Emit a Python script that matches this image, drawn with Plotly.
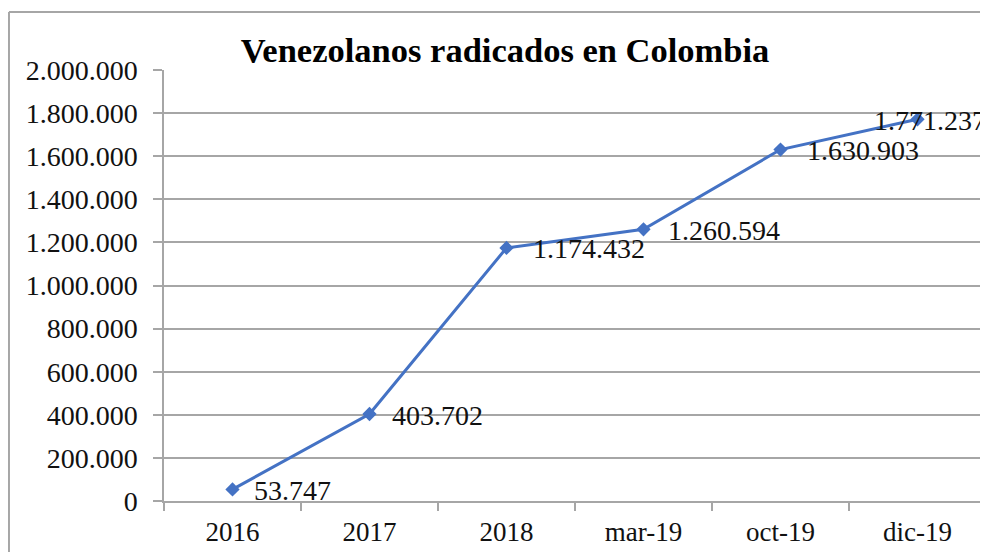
import plotly.graph_objects as go

categories = ["2016", "2017", "2018", "mar-19", "oct-19", "dic-19"]
values = [53747, 403702, 1174432, 1260594, 1630903, 1771237]
labels = ["53.747", "403.702", "1.174.432", "1.260.594", "1.630.903", "1.771.237"]
label_shift = [19, 20, 24, 22, 24, -46]

FONT = "Times New Roman, Liberation Serif, serif"
GRID = "#a6a6a6"

fig = go.Figure()
fig.add_trace(go.Scatter(
    x=categories, y=values, mode="lines+markers",
    line=dict(color="#4472C4", width=3),
    marker=dict(symbol="diamond", size=11, color="#4472C4"),
    cliponaxis=False, hoverinfo="skip",
))

annotations = []
for i, (v, t, s) in enumerate(zip(values, labels, label_shift)):
    annotations.append(dict(x=i, y=v, xref="x", yref="y", text=t, showarrow=False,
                            xanchor="left", yanchor="middle", xshift=s, yshift=-1,
                            font=dict(family=FONT, size=28, color="#111111")))

fig.update_layout(
    width=980, height=544,
    margin=dict(l=156, r=2, t=62, b=51),
    paper_bgcolor="white", plot_bgcolor="white",
    separators=",.",
    showlegend=False,
    title=dict(text="<b>Venezolanos radicados en Colombia</b>",
               font=dict(family=FONT, size=34.5, color="#000000"),
               x=497 / 980, xanchor="center", xref="container",
               y=1 - 42 / 544, yanchor="middle", yref="container"),
    annotations=annotations,
    shapes=[
        dict(type="line", xref="paper", yref="paper",
             x0=-0.1886, x1=-0.1886, y0=-0.3, y1=1.1346,
             line=dict(color=GRID, width=2), layer="below"),
        dict(type="line", xref="paper", yref="paper",
             x0=-0.1886, x1=1.05, y0=1.1346, y1=1.1346,
             line=dict(color=GRID, width=2), layer="below"),
    ],
)
fig.update_xaxes(
    type="category", tickson="boundaries", ticks="outside", ticklen=8,
    tickcolor=GRID, tickwidth=1.5, showgrid=False,
    showline=True, linecolor=GRID, linewidth=1.5,
    tickfont=dict(family=FONT, size=27, color="#111111"),
    ticklabelstandoff=6,
    range=[-0.5, 5.5],
)
fig.update_yaxes(
    range=[0, 2000000], dtick=200000, tickformat=",d",
    showgrid=True, gridcolor=GRID, gridwidth=1.5,
    ticks="outside", ticklen=9, tickcolor=GRID, tickwidth=1.5,
    showline=True, linecolor=GRID, linewidth=1.5,
    zeroline=False, ticklabelstandoff=10,
    tickfont=dict(family=FONT, size=28, color="#111111"),
)

fig.write_html("out.html")
